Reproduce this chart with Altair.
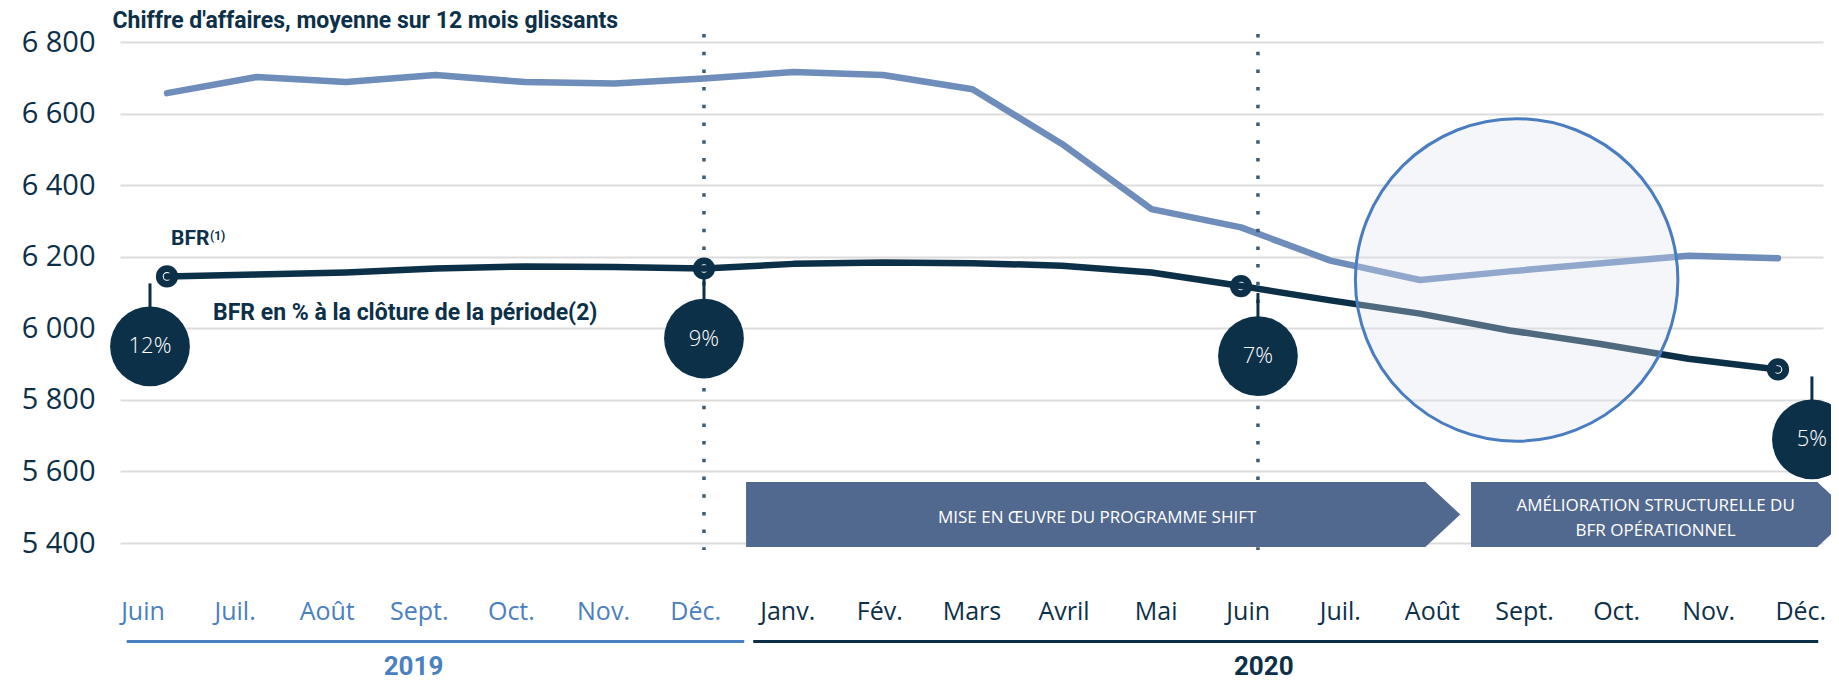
import altair as alt
import pandas as pd

# ---------------- data ----------------
months = ["Juin", "Juil.", "Août", "Sept.", "Oct.", "Nov.", "Déc.",
          "Janv.", "Fév.", "Mars", "Avril", "Mai", "Juin", "Juil.", "Août",
          "Sept.", "Oct.", "Nov.", "Déc."]
years = [2019] * 7 + [2020] * 12
revenue = [6657, 6702, 6688, 6708, 6688, 6684, 6698,
           6716, 6708, 6668, 6515, 6333, 6282, 6189, 6135,
           6159, 6181, 6203, 6196]
bfr = [6145, 6150, 6156, 6167, 6173, 6171, 6167,
       6180, 6184, 6182, 6175, 6156, 6118, 6078, 6041,
       5994, 5957, 5915, 5885]
pct_idx = [0, 6, 12, 18]
pct_labels = ["12%", "9%", "7%", "5%"]
dotted_idx = [6, 12]
phase_labels = ["MISE EN ŒUVRE DU PROGRAMME SHIFT",
                "AMÉLIORATION STRUCTURELLE DU\nBFR OPÉRATIONNEL"]
phase_start = [6.47, 14.57]
phase_end = [14.45, 18.83]
year_labels = [2019, 2020]
year_first = [0, 7]
year_last = [6, 18]
highlight_idx = [15.08]
highlight_val = [6135]
y_ticks = [5400, 5600, 5800, 6000, 6200, 6400, 6600, 6800]

# ---------------- styles ----------------
NAVY = "#0d3049"
REV = "#6e8dbb"
LIGHT = "#4a80c0"
BANNER = "#52698f"
DOT = "#3d5b72"
GRID = "#dcdcdc"
FONT = "Open Sans"
BOLD = "Roboto"
BANNER_TOP, BANNER_BOTTOM, TIP = 5570.5, 5389, 0.39

xs_main = alt.Scale(domain=[-0.525, 18.503], nice=False, zero=False)   # line points
xs_lab = alt.Scale(domain=[-0.2497, 18.241], nice=False, zero=False)   # month labels
xs_call = alt.Scale(domain=[-0.3249, 18.120], nice=False, zero=False)  # callouts
ys = alt.Scale(domain=[5400, 6800], nice=False, zero=False)

y_axis = alt.Axis(
    values=y_ticks, grid=True, gridColor=GRID, gridWidth=2, domain=False,
    ticks=False, tickSize=0, labelPadding=25, labelFontSize=29, labelFont=FONT,
    labelFontWeight=400, labelColor=NAVY, title=None,
    labelExpr="replace(format(datum.value, ','), ',', ' ')")

df = pd.DataFrame({"i": list(range(len(months))), "month": months,
                   "year": years, "rev": revenue, "bfr": bfr})
pct_df = pd.DataFrame({"i": pct_idx, "label": pct_labels,
                       "bfr": [bfr[k] for k in pct_idx]})
dot_df = pd.DataFrame({"i": dotted_idx})
year_df = pd.DataFrame({"year": year_labels, "first": year_first, "last": year_last})
hl_df = pd.DataFrame({"i": highlight_idx, "v": highlight_val})
phase_df = pd.DataFrame({"label": phase_labels, "start": phase_start, "end": phase_end})

rows = []
for k, (s, e) in enumerate(zip(phase_start, phase_end)):
    mid = (BANNER_TOP + BANNER_BOTTOM) / 2
    rows += [{"phase": k, "x": s, "top": BANNER_TOP, "bottom": BANNER_BOTTOM},
             {"phase": k, "x": e - TIP, "top": BANNER_TOP, "bottom": BANNER_BOTTOM},
             {"phase": k, "x": e, "top": mid, "bottom": mid}]
banner_df = pd.DataFrame(rows)

X_main = alt.X("i:Q", scale=xs_main, axis=None)
X_lab = alt.X("i:Q", scale=xs_lab, axis=None)
X_call = alt.X("i:Q", scale=xs_call, axis=None)


def Yq(f):
    return alt.Y(f, scale=ys, axis=y_axis)


base = alt.Chart(df)

rev_line = base.mark_line(color=REV, strokeWidth=6.5, strokeCap="round", strokeJoin="round").encode(
    x=X_main, y=Yq("rev:Q"))

dotted = alt.Chart(dot_df).mark_rule(color=DOT, strokeWidth=3.5, strokeDash=[3.5, 14.2]).encode(
    x=X_call, y=alt.value(-8), y2=alt.value(508))

stems = alt.Chart(pct_df).mark_rule(color=NAVY, strokeWidth=3, yOffset=7, y2Offset=70).encode(
    x=X_call, y=Yq("bfr:Q"), y2=alt.Y2("bfr:Q"))

markers = alt.Chart(pct_df).mark_circle(color=NAVY, size=491, opacity=1).encode(
    x=X_main, y=Yq("bfr:Q"))
rings = alt.Chart(pct_df).mark_point(shape="circle", filled=False, color="white",
                                     strokeWidth=1.5, size=50, opacity=1).encode(
    x=X_main, y=Yq("bfr:Q"))

bfr_line = base.mark_line(color=NAVY, strokeWidth=6.5, strokeCap="round", strokeJoin="round").encode(
    x=X_main, y=Yq("bfr:Q"))

highlight = alt.Chart(hl_df).mark_point(
    shape="circle", filled=True, size=104000, fill="#dde3ef", fillOpacity=0.32,
    stroke="#4a7dc0", strokeWidth=3, strokeOpacity=1, opacity=1).encode(
    x=X_main, y=Yq("v:Q"))

bubbles = alt.Chart(pct_df).mark_circle(color=NAVY, size=6362, opacity=1, yOffset=70).encode(
    x=X_call, y=Yq("bfr:Q"))
bubble_txt = alt.Chart(pct_df).mark_text(color="white", font=FONT, fontWeight=300, fontSize=22,
                                         yOffset=70, baseline="middle").encode(
    x=X_call, y=Yq("bfr:Q"), text="label:N")

banners = alt.Chart(banner_df).mark_area(color=BANNER, opacity=1).encode(
    x=alt.X("x:Q", scale=xs_main, axis=None), y=Yq("top:Q"), y2=alt.Y2("bottom:Q"),
    detail="phase:N")
banner_txt = alt.Chart(phase_df).transform_calculate(
    mid="(datum.start + datum.end) / 2",
    ty="476 - (length(split(datum.label, '\\n')) - 1) * 12.5",
).mark_text(
    color="white", font=FONT, fontWeight=400, fontSize=17, lineBreak="\n", lineHeight=25,
    baseline="middle", dx=-6).encode(
    x=alt.X("mid:Q", scale=xs_main, axis=None), y=alt.Y("ty:Q", scale=None), text="label:N")

month_txt = base.mark_text(font=FONT, fontWeight=400, fontSize=25, baseline="alphabetic").encode(
    x=X_lab, y=alt.value(578), text="month:N",
    color=alt.condition("datum.year == 2019", alt.value(LIGHT), alt.value(NAVY)))

year_color = alt.Color("year:N", scale=alt.Scale(domain=year_labels, range=[LIGHT, NAVY]), legend=None)
year_rule = alt.Chart(year_df).transform_calculate(
    x1="datum.first - 0.45", x2="datum.last + 0.45").mark_rule(strokeWidth=3).encode(
    x=alt.X("x1:Q", scale=xs_main, axis=None), x2="x2:Q", y=alt.value(599.5), color=year_color)
year_txt = alt.Chart(year_df).transform_calculate(mid="(datum.first + datum.last) / 2").mark_text(
    font=BOLD, fontWeight="bold", fontSize=26, baseline="alphabetic", dx=-22).encode(
    x=alt.X("mid:Q", scale=xs_main, axis=None), y=alt.value(633), text="year:N", color=year_color)

first_pt = df.iloc[[0]]
title_txt = alt.Chart(first_pt).mark_text(
    text="Chiffre d'affaires, moyenne sur 12 mois glissants", font=BOLD, fontWeight="bold",
    fontSize=23, color=NAVY, align="left", baseline="alphabetic", dx=-54.5, dy=-65.6).encode(
    x=X_main, y=Yq("rev:Q"))
bfr_lbl = alt.Chart(first_pt).mark_text(
    text="BFR", font=BOLD, fontWeight="bold", fontSize=21, color=NAVY, align="left",
    baseline="alphabetic", dx=4, dy=-31).encode(x=X_main, y=Yq("bfr:Q"))
bfr_sup = alt.Chart(first_pt).mark_text(
    text="(1)", font=BOLD, fontWeight="bold", fontSize=12, color=NAVY, align="left",
    baseline="alphabetic", dx=43, dy=-36).encode(x=X_main, y=Yq("bfr:Q"))
pct_lbl = alt.Chart(first_pt).mark_text(
    text="BFR en % à la clôture de la période(2)", font=BOLD, fontWeight="bold", fontSize=23,
    color=NAVY, align="left", baseline="alphabetic", dx=46, dy=44).encode(
    x=X_main, y=Yq("bfr:Q"))

chart = alt.layer(
    rev_line, dotted, stems, markers, rings, bfr_line, highlight, bubbles, bubble_txt,
    banners, banner_txt, month_txt, year_rule, year_txt, title_txt, bfr_lbl, bfr_sup, pct_lbl
).resolve_scale(x="independent").properties(
    width=1703, height=501,
    autosize=alt.AutoSizeParams(type="none"),
    padding={"left": 112, "top": 34, "right": 8, "bottom": 137},
).configure_view(stroke=None)

chart.save("out.html", embed_options={"renderer": "svg", "actions": False})
